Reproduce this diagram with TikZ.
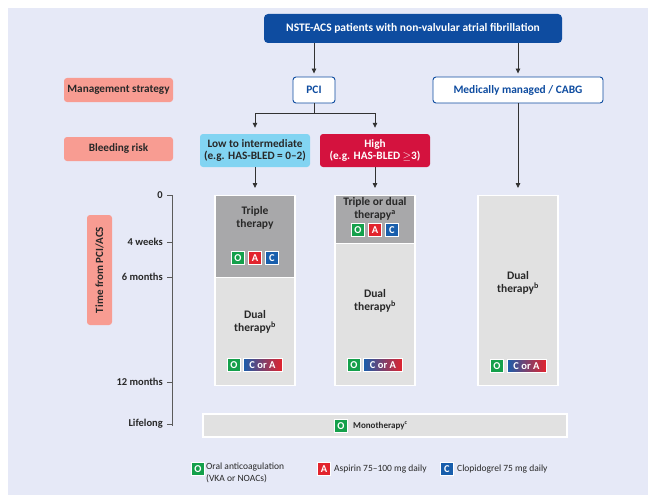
\documentclass[tikz,border=0pt]{standalone}
\usepackage{fontspec}
\setmainfont{Carlito}
\usetikzlibrary{arrows.meta,positioning}

\definecolor{pagebg}{RGB}{230,233,247}
\definecolor{escblue}{RGB}{14,76,160}
\definecolor{salmon}{RGB}{248,156,146}
\definecolor{lowcyan}{RGB}{130,212,242}
\definecolor{highred}{RGB}{212,18,62}
\definecolor{darkcell}{RGB}{168,168,170}
\definecolor{lightcell}{RGB}{225,225,225}
\definecolor{linegray}{RGB}{50,50,50}
\definecolor{textgray}{RGB}{40,40,40}
\definecolor{ogreen}{RGB}{20,160,75}
\definecolor{ared}{RGB}{226,35,45}
\definecolor{cblue}{RGB}{24,94,172}

\tikzset{
  sidebox/.style={fill=salmon, rounded corners=3pt, text=textgray, inner sep=0pt,
    font=\bfseries\fontsize{11.2}{12}\selectfont, minimum width=109pt, minimum height=24pt},
  headbox/.style={fill=escblue, text=white, rounded corners=4pt, inner sep=0pt,
    font=\bfseries\fontsize{11.5}{12}\selectfont, minimum width=298pt, minimum height=29pt},
  stratbox/.style={draw=escblue, line width=0.9pt, fill=white, text=escblue, rounded corners=3pt,
    inner sep=0pt, font=\bfseries\fontsize{11.4}{12}\selectfont, minimum height=26pt},
  riskbox/.style={rounded corners=3pt, minimum width=110pt, minimum height=33pt, align=center,
    inner sep=0pt, font=\bfseries\fontsize{11.3}{12.5}\selectfont},
  cell/.style={draw=white, line width=1.2pt, minimum width=80pt, inner sep=0pt, anchor=north},
  celltext/.style={align=center, text=textgray, font=\bfseries\fontsize{11.5}{12.5}\selectfont},
  drug/.style={fill=#1, draw=white, line width=0.7pt, text=white, inner sep=0pt,
    font=\bfseries\fontsize{10.5}{10}\selectfont, minimum size=13pt},
  eitheror/.style={left color=cblue, right color=ared, draw=white, line width=0.7pt, text=white,
    inner sep=0pt, font=\bfseries\fontsize{10.5}{10}\selectfont, minimum width=39pt, minimum height=13pt},
  legendtext/.style={align=left, text=textgray, inner sep=0pt, font=\fontsize{9.5}{12}\selectfont},
  ticktext/.style={anchor=east, text=textgray, inner sep=0pt, font=\bfseries\fontsize{10.5}{11}\selectfont},
  link/.style={draw=linegray, line width=0.8pt},
  arrow/.style={link, -{Triangle[length=5pt,width=4.5pt]}, shorten >=3pt},
}

\begin{document}
\begin{tikzpicture}[x=1pt, y=-1pt]
  % page
  \useasboundingbox (0,0) rectangle (648,495);
  \fill[pagebg] (8,8) rectangle (648,495);

  % top of the tree
  \node[headbox] (nste) at (413,28.5) {NSTE-ACS patients with non-valvular atrial fibrillation};
  \node[stratbox, minimum width=42pt] (pci) at (314,90) {PCI};
  \node[stratbox, minimum width=170pt] (medical) at (518,90) {Medically managed / CABG};
  \node[riskbox, fill=lowcyan, text=textgray] (lowrisk) at (255,150.5) {Low to intermediate\\(e.g. HAS-BLED = 0--2)};
  \node[riskbox, fill=highred, text=white] (highrisk) at (375,150.5) {High\\(e.g. HAS-BLED ${\geq}$3)};

  % row labels
  \node[sidebox] (strategy) at (118.5,90) {Management strategy};
  \node[sidebox] (bleeding) at (118.5,149) {Bleeding risk};
  \node[sidebox, rotate=90, minimum width=110pt, minimum height=25pt, font=\bfseries\fontsize{11}{12}\selectfont] (timebox) at (99.5,270) {Time from PCI/ACS};

  % therapy columns
  \node[cell, fill=darkcell, minimum height=82pt] (triplecell) at (255,195) {};
  \node[cell, fill=lightcell, minimum height=108pt] (dualcellA) at (255,277) {};
  \node[cell, fill=darkcell, minimum height=48pt] (eithercell) at (375,195) {};
  \node[cell, fill=lightcell, minimum height=142pt] (dualcellB) at (375,243) {};
  \node[cell, fill=lightcell, minimum height=190pt] (dualcellC) at (518,195) {};

  \node[celltext] (tripletext) at (255,218) {Triple\\therapy};
  \node[drug=ogreen] (o1) at (238,258) {O};
  \node[drug=ared] (a1) at (255,258) {A};
  \node[drug=cblue] (c1) at (272,258) {C};

  \node[celltext] (eithertext) at (375,209) {Triple or dual\\therapy\textsuperscript{a}};
  \node[drug=ogreen] (o2) at (358,230) {O};
  \node[drug=ared] (a2) at (375,230) {A};
  \node[drug=cblue] (c2) at (392,230) {C};

  \node[celltext] (dualtextA) at (255,322) {Dual\\therapy\textsuperscript{b}};
  \node[drug=ogreen] (o3) at (234,365) {O};
  \node[eitheror] (ca3) at (262.5,365) {C or A};
  \node[celltext] (dualtextB) at (375,301) {Dual\\therapy\textsuperscript{b}};
  \node[drug=ogreen] (o4) at (354,365) {O};
  \node[eitheror] (ca4) at (383,365) {C or A};
  \node[celltext] (dualtextC) at (518,283) {Dual\\therapy\textsuperscript{b}};
  \node[drug=ogreen] (o5) at (497,366) {O};
  \node[eitheror] (ca5) at (526.5,366) {C or A};

  % lifelong
  \node[cell, fill=lightcell, anchor=center, minimum width=364pt, minimum height=23pt] (monocell) at (385,425.5) {};
  \node[drug=ogreen] (o6) at (341,426) {O};
  \node[celltext, anchor=west, inner sep=0pt, font=\bfseries\fontsize{9}{11}\selectfont] (monotext) at (353,426) {Monotherapy\textsuperscript{c}};

  % time axis
  \draw[link, draw=linegray!80] (172,195) -- (172,426);
  \foreach \y/\t [count=\i] in {195/0, 242/4 weeks, 277/6 months, 382/12 months, 424/Lifelong} {
    \draw[link, draw=linegray!80] (167,\y) -- (172,\y);
    \node[ticktext] (tick\i) at (163,\y) {\t};
  }

  % connectors
  \draw[arrow] (nste.south -| pci.north) -- (pci.north);
  \draw[arrow] (nste.south -| medical.north) -- (medical.north);
  \coordinate (split) at (314,113);
  \draw[link] (pci.south) -- (split);
  \draw[link] (split -| lowrisk.north) -- (split -| highrisk.north);
  \draw[arrow, shorten >=6pt] (split -| lowrisk.north) -- (lowrisk.north);
  \draw[arrow, shorten >=6pt] (split -| highrisk.north) -- (highrisk.north);
  \draw[arrow, shorten >=7pt] (lowrisk.south) -- (triplecell.north);
  \draw[arrow, shorten >=7pt] (highrisk.south) -- (eithercell.north);
  \draw[arrow, shorten >=7pt] (medical.south) -- (dualcellC.north);

  % legend
  \node[drug=ogreen] (legO) at (198,469) {O};
  \node[legendtext, anchor=north west] (legOtext) at (206,463) {Oral anticoagulation\\(VKA or NOACs)};
  \node[drug=ared] (legA) at (324,469) {A};
  \node[legendtext, anchor=west] (legAtext) at (334,469) {Aspirin 75--100 mg daily};
  \node[drug=cblue] (legC) at (447,469) {C};
  \node[legendtext, anchor=west] (legCtext) at (457,469) {Clopidogrel 75 mg daily};
\end{tikzpicture}
\end{document}
